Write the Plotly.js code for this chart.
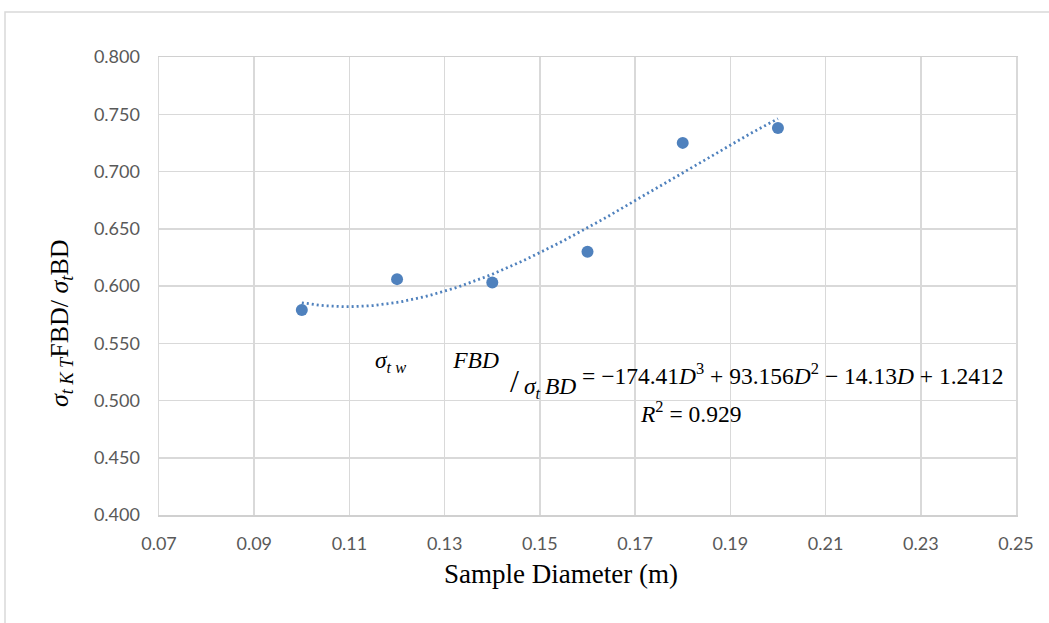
<!DOCTYPE html>
<html>
<head>
<meta charset="utf-8">
<script src="https://cdn.plot.ly/plotly-3.0.1.min.js"></script>
<style>html,body{margin:0;padding:0;background:#fff;}#chart{width:1049px;height:623px;}</style>
</head>
<body>
<div id="chart"></div>
<script>
// Data
var diameters = [0.10, 0.12, 0.14, 0.16, 0.18, 0.20];
var ratios = [0.579, 0.606, 0.603, 0.630, 0.725, 0.738];

// Polynomial trendline (coefficients as printed on the chart, D^3, D^2, D, const)
var trendCoeffs = [-174.41, 93.156, -14.13, 1.2412];
var trendRange = [0.10, 0.20];
var rSquared = "0.929";

var xTickVals = [0.07, 0.09, 0.11, 0.13, 0.15, 0.17, 0.19, 0.21, 0.23, 0.25];
var xTickText = ["0.07", "0.09", "0.11", "0.13", "0.15", "0.17", "0.19", "0.21", "0.23", "0.25"];
var yTickVals = [0.400, 0.450, 0.500, 0.550, 0.600, 0.650, 0.700, 0.750, 0.800];
var yTickText = ["0.400", "0.450", "0.500", "0.550", "0.600", "0.650", "0.700", "0.750", "0.800"];

function poly(c, x) { var v = 0; for (var i = 0; i < c.length; i++) v = v * x + c[i]; return v; }
var trendX = [], trendY = [];
var nSteps = 100;
for (var i = 0; i <= nSteps; i++) {
  var x = trendRange[0] + (trendRange[1] - trendRange[0]) * i / nSteps;
  trendX.push(x); trendY.push(poly(trendCoeffs, x));
}

var blue = '#4f81bd';
var serif = '"Liberation Serif", "Times New Roman", serif';
var tickFont = {family: 'Lato, "Noto Sans", sans-serif', size: 18, color: '#595959'};

var traces = [
  {x: trendX, y: trendY, mode: 'lines', type: 'scatter', hoverinfo: 'skip',
   line: {color: blue, width: 2.8, dash: '2px,3px'}},
  {x: diameters, y: ratios, mode: 'markers', type: 'scatter',
   marker: {color: blue, size: 12}}
];

var L = 159, R = 1016, T = 57, B = 515, W = R - L, H = B - T;
function px(x) { return (x - L) / W; }
function py(y) { return (B - y) / H; }
var eqFont = {family: serif, size: 23.5, color: '#000'};

var layout = {
  width: 1049, height: 623,
  margin: {l: L, r: 1049 - R, t: T, b: 623 - B, pad: 0},
  paper_bgcolor: '#fff', plot_bgcolor: '#fff',
  showlegend: false,
  xaxis: {range: [0.07, 0.25], tickvals: xTickVals, ticktext: xTickText,
          showgrid: true, gridcolor: '#d9d9d9', gridwidth: 1.5,
          showline: true, linecolor: '#d0d0d0', linewidth: 1.5, mirror: true,
          zeroline: false, ticks: 'outside', ticklen: 12, tickcolor: 'rgba(0,0,0,0)',
          tickfont: tickFont},
  yaxis: {range: [0.4, 0.8], tickvals: yTickVals, ticktext: yTickText,
          showgrid: true, gridcolor: '#d9d9d9', gridwidth: 1.5,
          showline: true, linecolor: '#d9d9d9', linewidth: 1.5, mirror: true,
          zeroline: false, ticks: 'outside', ticklen: 14, tickcolor: 'rgba(0,0,0,0)',
          tickfont: tickFont},
  shapes: [
    {type: 'rect', xref: 'paper', yref: 'paper',
     x0: px(5), x1: px(1070), y0: py(640), y1: py(12),
     line: {color: '#d9d9d9', width: 1.5}, fillcolor: 'rgba(0,0,0,0)', layer: 'below'}
  ],
  annotations: [
    {xref: 'paper', yref: 'paper', x: px(561), y: py(574), xanchor: 'center', yanchor: 'middle',
     text: 'Sample Diameter (m)', showarrow: false, font: {family: serif, size: 27, color: '#000'}},
    {xref: 'paper', yref: 'paper', x: px(61), y: py(323), xanchor: 'center', yanchor: 'middle',
     textangle: -90, showarrow: false, font: {family: serif, size: 26, color: '#000'},
     text: '<i>σ</i><sub><i>t K T</i></sub>FBD/ <i>σ</i><sub><i>t</i></sub>BD'},
    {xref: 'paper', yref: 'paper', x: px(373), y: py(362), xanchor: 'left', yanchor: 'middle',
     showarrow: false, font: eqFont,
     text: '<i>σ</i><sub><i>t w</i></sub>\u2003\u2003<i>FBD</i>'},
    {xref: 'paper', yref: 'paper', x: px(514), y: py(381), xanchor: 'center', yanchor: 'middle',
     showarrow: false, font: {family: serif, size: 32, color: '#000'}, text: '/'},
    {xref: 'paper', yref: 'paper', x: px(522), y: py(388), xanchor: 'left', yanchor: 'middle',
     showarrow: false, font: eqFont,
     text: '<i>σ</i><sub><i>t</i></sub>\u2009<i>BD</i>'},
    {xref: 'paper', yref: 'paper', x: px(580), y: py(374), xanchor: 'left', yanchor: 'middle',
     showarrow: false, font: eqFont,
     text: '= −174.41<i>D</i><sup>3</sup> + 93.156<i>D</i><sup>2</sup> − 14.13<i>D</i> + 1.2412'},
    {xref: 'paper', yref: 'paper', x: px(690), y: py(412), xanchor: 'center', yanchor: 'middle',
     showarrow: false, font: eqFont,
     text: '<i>R</i><sup>2</sup> = ' + rSquared}
  ]
};

Plotly.newPlot('chart', traces, layout, {displayModeBar: false, staticPlot: true});
</script>
</body>
</html>
